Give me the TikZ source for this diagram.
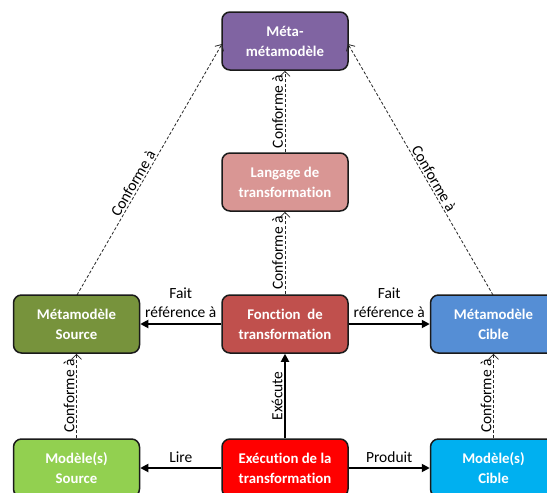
\documentclass[tikz,border=0pt]{standalone}
\usepackage{fontspec}
\setmainfont{Carlito}[Ligatures=NoCommon]
\usetikzlibrary{arrows.meta}
\definecolor{cmmm}{HTML}{8064A2}
\definecolor{clt}{HTML}{D99694}
\definecolor{cft}{HTML}{C0504D}
\definecolor{cms}{HTML}{77933C}
\definecolor{cmc}{HTML}{558ED5}
\definecolor{cmods}{HTML}{92D050}
\definecolor{cexec}{HTML}{FF0000}
\definecolor{cmodc}{HTML}{00B0F0}
\definecolor{cborder}{HTML}{1A1A1A}
\tikzset{
  box/.style={draw=cborder, line width=1.5pt, rounded corners=8pt, rectangle,
    minimum width=126pt, minimum height=58pt, inner sep=0pt, align=center,
    text=white, font=\fontsize{14.8}{20}\selectfont\bfseries},
  conf/.style={draw=black!85, line width=0.8pt, dash pattern=on 3pt off 2pt,
    -{Straight Barb[length=5pt,width=10pt,line width=0.8pt]}},
  solidarrow/.style={draw=black, line width=1.8pt, -{Triangle[length=8pt,width=8pt]}},
  lab/.style={font=\fontsize{15.5}{19}\selectfont, text=black, inner sep=1.5pt, align=center}
}
\begin{document}
\begin{tikzpicture}[x=1pt,y=-1pt]
\useasboundingbox (0,0) rectangle (547,493);
\clip (0,0) rectangle (547,493);
\fill[white] (0,0) rectangle (547,493);
\node[box, fill=cmmm] (mmm) at (285,41) {Méta-\\métamodèle};
\node[box, fill=clt] (lt) at (285,182) {Langage de\\transformation};
\node[box, fill=cft] (ft) at (285,324) {Fonction\ \ de\\transformation};
\node[box, fill=cms] (ms) at (76.5,324) {Métamodèle\\Source};
\node[box, fill=cmc] (mc) at (493.5,324) {Métamodèle\\Cible};
\node[box, fill=cmods] (mods) at (76.5,468) {Modèle(s)\\Source};
\node[box, fill=cexec] (exec) at (285,468) {Exécution de la\\transformation};
\node[box, fill=cmodc] (modc) at (493.5,468) {Modèle(s)\\Cible};
\coordinate (mmmw) at (222,44);
\coordinate (mmme) at (348,44);
\coordinate (mstop) at (77,295);
\coordinate (mctop) at (493,295);
\draw[conf] (lt.north) -- node[lab, sloped, above] {Conforme à} (mmm.south);
\draw[conf] (ft.north) -- node[lab, sloped, above] {Conforme à} (lt.south);
\draw[conf] (mstop) -- node[lab, sloped, above, pos=0.43] {Conforme à} (mmmw);
\draw[conf] (mctop) -- node[lab, sloped, above, pos=0.45] {Conforme à} (mmme);
\draw[conf] (mods.north) -- node[lab, sloped, above] {Conforme à} (ms.south);
\draw[conf] (modc.north) -- node[lab, sloped, above] {Conforme à} (mc.south);
\draw[solidarrow] (ft.west) -- node[lab, above=3.5pt] {Fait\\référence à} (ms.east);
\draw[solidarrow] (ft.east) -- node[lab, above=3.5pt] {Fait\\référence à} (mc.west);
\draw[solidarrow] (exec.west) -- node[lab, above=2.5pt] {Lire} (mods.east);
\draw[solidarrow] (exec.east) -- node[lab, above=2.5pt] {Produit} (modc.west);
\draw[solidarrow] (exec.north) -- node[lab, sloped, above] {Exécute} (ft.south);
\end{tikzpicture}
\end{document}
